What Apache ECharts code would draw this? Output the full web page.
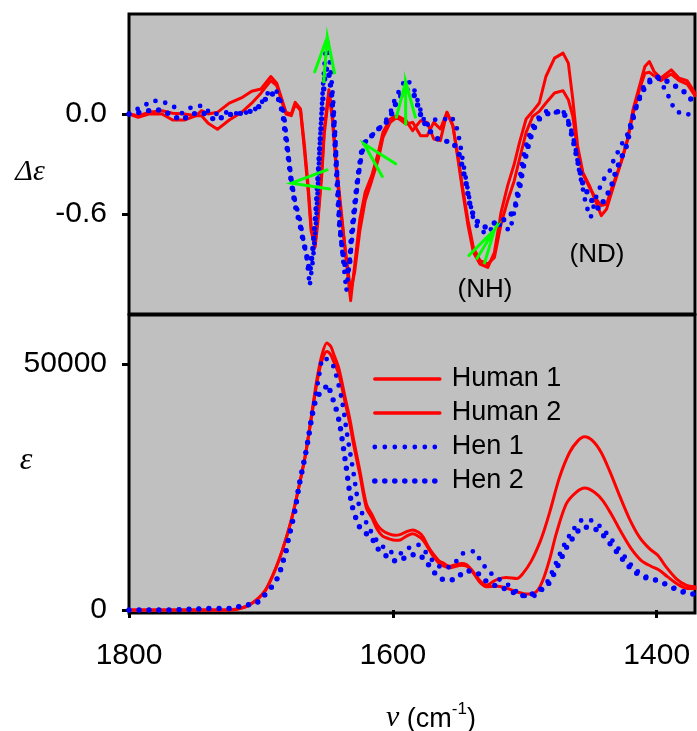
<!DOCTYPE html>
<html>
<head>
<meta charset="utf-8">
<script src="https://cdn.jsdelivr.net/npm/echarts@6/dist/echarts.min.js"></script>
<style>
html,body{margin:0;padding:0;background:#fff;}
#c{width:697px;height:731px;}
</style>
</head>
<body>
<div id="c"></div>
<script>
const xTicks = [1800, 1600, 1400];
const deltaTicks = [-0.6, 0.0];
const epsTicks = [0, 50000];
const seriesNames = ['Human 1', 'Human 2', 'Hen 1', 'Hen 2'];

const human1Delta = [
[1800,0.00],[1793,-0.01],[1785,0.01],[1775,0.02],[1767,0.005],[1758,0.00],[1749,-0.01],[1745,0.02],[1740,0.00],[1733,0.01],[1724,0.065],[1714,0.10],[1707,0.137],[1700,0.15],[1692.5,0.225],[1688,0.185],[1681,0.01],[1677,0.00],[1674,0.07],[1670,0.03],[1667,-0.19],[1664,-0.45],[1662,-0.67],[1659,-0.79],[1657,-0.63],[1654,-0.35],[1652,-0.09],[1648.5,0.145],[1646,0.01],[1643,-0.29],[1639,-0.59],[1635,-0.91],[1632,-1.12],[1629,-0.91],[1625,-0.63],[1621,-0.47],[1616,-0.37],[1611,-0.23],[1607.5,-0.11],[1602,-0.03],[1597,-0.01],[1590,-0.04],[1585,-0.10],[1579,-0.04],[1574,-0.05],[1569,-0.15],[1564,-0.16],[1559,0.01],[1554.5,-0.07],[1550.7,-0.27],[1547,-0.47],[1543,-0.67],[1539,-0.83],[1534,-0.90],[1528,-0.92],[1523,-0.83],[1518,-0.59],[1513,-0.43],[1508,-0.30],[1504,-0.17],[1499,-0.03],[1494,0.016],[1489,0.066],[1484,0.225],[1477.5,0.335],[1471,0.365],[1467,0.305],[1463.6,0.086],[1460,-0.19],[1456,-0.35],[1451,-0.43],[1446,-0.53],[1442,-0.61],[1438,-0.57],[1433,-0.44],[1427,-0.29],[1422,-0.15],[1418,0.026],[1413,0.17],[1409,0.285],[1405.6,0.315],[1402,0.255],[1397,0.215],[1389,0.265],[1383,0.215],[1377,0.20],[1371,0.126]
];
const human2Delta = [
[1800,0.00],[1793,-0.02],[1785,0.00],[1775,0.00],[1767,-0.036],[1758,-0.036],[1749,-0.01],[1745,-0.01],[1740,-0.056],[1733,-0.092],[1724,-0.036],[1714,0.014],[1707,0.065],[1700,0.125],[1692.5,0.20],[1688,0.17],[1681,0.00],[1677,-0.01],[1674,0.06],[1670,0.02],[1667,-0.22],[1664,-0.48],[1662,-0.70],[1659,-0.80],[1657,-0.66],[1654,-0.38],[1652,-0.12],[1648.5,0.12],[1646,-0.02],[1643,-0.33],[1639,-0.62],[1635,-0.88],[1632,-1.06],[1629,-0.95],[1625,-0.70],[1621,-0.52],[1616,-0.40],[1611,-0.27],[1607.5,-0.14],[1602,-0.05],[1597,-0.02],[1590,-0.06],[1585,-0.05],[1579,-0.13],[1574,-0.13],[1569,-0.05],[1564,-0.09],[1559,0.01],[1554.5,-0.07],[1550.7,-0.25],[1547,-0.45],[1543,-0.64],[1539,-0.80],[1534,-0.88],[1528,-0.90],[1523,-0.86],[1518,-0.66],[1513,-0.52],[1508,-0.40],[1504,-0.27],[1499,-0.11],[1494,-0.014],[1489,0.016],[1484,0.066],[1477.5,0.126],[1471,0.14],[1467,0.086],[1463.6,-0.014],[1460,-0.22],[1456,-0.36],[1451,-0.44],[1446,-0.51],[1442,-0.55],[1438,-0.54],[1433,-0.42],[1427,-0.29],[1422,-0.15],[1418,0.00],[1413,0.15],[1409,0.245],[1405.6,0.25],[1402,0.23],[1397,0.20],[1389,0.24],[1383,0.20],[1377,0.18],[1371,0.11]
];
const hen1Delta = [
[1800,0.00],[1797.5,0.014],[1790,0.044],[1782,0.08],[1775,0.075],[1767,0.05],[1760,0.005],[1752,0.044],[1744.5,0.05],[1737,-0.005],[1728,0.01],[1719,0.004],[1713,0.004],[1705,0.024],[1699,0.074],[1694,0.134],[1688,0.134],[1685,0.076],[1683,0.016],[1682,-0.04],[1679.4,-0.23],[1677,-0.39],[1674,-0.53],[1670.5,-0.63],[1668,-0.75],[1665.5,-0.85],[1663,-1.03],[1660.5,-0.87],[1658,-0.63],[1655.4,-0.19],[1653,0.165],[1651.6,0.325],[1650,0.455],[1648,0.325],[1646.5,0.205],[1645.3,0.086],[1644,-0.074],[1642.8,-0.27],[1641.5,-0.47],[1640.3,-0.67],[1637.8,-0.87],[1635.2,-1.06],[1631.4,-0.79],[1629,-0.59],[1626.4,-0.39],[1623.8,-0.25],[1621.3,-0.17],[1617.5,-0.144],[1613.8,-0.11],[1608.7,-0.074],[1605,-0.034],[1601,0.026],[1598.6,0.086],[1594.8,0.145],[1590.3,0.21],[1584.8,0.17],[1582.2,0.106],[1578.4,0.006],[1574.6,-0.074],[1571,-0.034],[1564.6,-0.034],[1560,-0.03],[1555.7,-0.014],[1552,-0.07],[1549.4,-0.16],[1547,-0.28],[1544.4,-0.40],[1542,-0.51],[1539.3,-0.62],[1536.8,-0.67],[1533,-0.68],[1530.5,-0.72],[1525.4,-0.69],[1517.8,-0.66],[1511.6,-0.70],[1509,-0.63],[1506.5,-0.51],[1504,-0.39],[1501.5,-0.27],[1497.7,-0.15],[1494,-0.074],[1489,-0.014],[1484,0.016],[1477.5,0.006],[1471.6,0.026],[1467.4,-0.034],[1463.6,-0.13],[1461,-0.23],[1458.6,-0.35],[1456,-0.45],[1453.5,-0.55],[1450,-0.62],[1446,-0.50],[1441,-0.40],[1436,-0.35],[1433.4,-0.29],[1429.6,-0.23],[1425.8,-0.17],[1422,-0.12],[1418.2,-0.014],[1414.4,0.066],[1410.6,0.155],[1404.3,0.215],[1398,0.21],[1390.4,0.096],[1386.6,0.026],[1380.3,-0.004],[1372.8,0.00]
];
const hen2Delta = [
[1800,0.00],[1797.5,0.00],[1790,0.014],[1782,0.024],[1775,0.024],[1767,-0.012],[1760,-0.036],[1752,0.00],[1744.5,0.01],[1737,-0.026],[1733,-0.04],[1728,-0.01],[1719,0.004],[1713,0.004],[1705,0.024],[1699,0.06],[1694,0.12],[1688,0.12],[1685,0.05],[1683,-0.02],[1681.9,-0.10],[1679.4,-0.25],[1677,-0.41],[1674,-0.55],[1670.5,-0.66],[1668,-0.76],[1665.5,-0.84],[1663,-0.95],[1660.5,-0.80],[1658,-0.55],[1655.4,-0.20],[1653,0.10],[1651.6,0.22],[1650,0.28],[1648,0.22],[1646.5,0.12],[1645.3,0.00],[1644,-0.15],[1642.8,-0.33],[1641.5,-0.52],[1640.3,-0.68],[1637.8,-0.84],[1635.2,-0.95],[1633,-0.93],[1631.4,-0.73],[1629,-0.55],[1626.4,-0.37],[1623.8,-0.23],[1621.3,-0.17],[1617.5,-0.144],[1613.8,-0.11],[1608.7,-0.074],[1605,-0.05],[1601,0.00],[1598.6,0.05],[1594.8,0.10],[1590.3,0.15],[1584.8,0.13],[1582.2,0.08],[1578.4,-0.02],[1574.6,-0.074],[1571,-0.11],[1564.6,-0.16],[1560,-0.164],[1555.7,-0.164],[1552,-0.20],[1549.4,-0.25],[1547,-0.33],[1544.4,-0.42],[1542,-0.53],[1539.3,-0.60],[1536.8,-0.64],[1533,-0.66],[1530.5,-0.68],[1525.4,-0.66],[1517.8,-0.64],[1511.6,-0.62],[1507,-0.55],[1504,-0.45],[1501.5,-0.33],[1497.7,-0.20],[1494,-0.10],[1489,-0.03],[1484,0.00],[1477.5,0.01],[1471.6,0.02],[1467.4,-0.04],[1463.6,-0.15],[1460,-0.28],[1456,-0.42],[1452,-0.48],[1447,-0.55],[1443.4,-0.57],[1439.6,-0.51],[1435,-0.45],[1432,-0.37],[1428.3,-0.29],[1423.3,-0.20],[1419.4,-0.074],[1415.6,0.046],[1411.9,0.116],[1408,0.175],[1400.5,0.225],[1392.9,0.20],[1385.4,0.165],[1377.8,0.126],[1372.8,0.076]
];

const human1Eps = [
[1800,0],[1780,0],[1760,0],[1740,0],[1724,0],[1716,300],[1709,1000],[1702,2360],[1696.5,4050],[1691.5,6750],[1686.4,10120],[1681.4,14170],[1676.4,18900],[1671.3,24960],[1666.2,31700],[1661.2,40500],[1657.4,47200],[1653.7,51960],[1650,54300],[1647,53600],[1644.8,52000],[1641,49200],[1636,43000],[1632.7,39000],[1630,35000],[1625,28300],[1620,21500],[1616,19500],[1612,17400],[1608,16200],[1603,15500],[1598,15200],[1594,15400],[1590,15900],[1585,16300],[1580,15700],[1577,14840],[1573,12800],[1569.6,11470],[1565,10000],[1562,9580],[1557,8900],[1554,9100],[1548,9450],[1544,9200],[1540,8100],[1534.3,6070],[1529,5060],[1524,5800],[1520.4,6300],[1514,6610],[1506,6400],[1501.5,7400],[1495,10000],[1489,13500],[1485,16500],[1481,20000],[1473.7,26980],[1466.1,32040],[1459.8,34400],[1454.8,35220],[1448.5,34400],[1442.1,32040],[1435.8,28340],[1428.2,23280],[1420.7,18560],[1413.1,14840],[1405.5,12480],[1399.2,11130],[1392.9,8770],[1385.3,6410],[1377.8,5060],[1371,4720]
];
const human2Eps = [
[1800,0],[1780,0],[1760,0],[1740,0],[1724,0],[1716,300],[1709,1000],[1702,2360],[1696.5,4050],[1691.5,6750],[1686.4,10120],[1681.4,14170],[1676.4,18900],[1671.3,24960],[1666.2,31700],[1661.2,40000],[1657.4,46500],[1653.7,50800],[1650,52600],[1647,51900],[1644.8,50500],[1641,48000],[1636,42000],[1632.7,38000],[1630,34000],[1625,27500],[1620,20700],[1616,18800],[1612,16500],[1608,15100],[1603,14500],[1598,14170],[1594,14300],[1590,15000],[1585,15520],[1580,14900],[1577,14170],[1573,12500],[1569.6,11000],[1565,9500],[1562,9000],[1557,8600],[1554,8770],[1548,9100],[1544,8900],[1540,7900],[1534.3,5730],[1529,4720],[1524,4800],[1520.4,4860],[1513,4390],[1506,3700],[1498,3240],[1491.4,3700],[1486.3,6070],[1481,10500],[1476.2,15500],[1468.6,21600],[1461.1,23950],[1454.5,24800],[1447.2,23950],[1440.9,22260],[1434.6,19570],[1427,15850],[1419.4,12480],[1411.9,10120],[1404.3,8900],[1398,8100],[1391.7,6740],[1384.1,5260],[1376.6,4390],[1371,4390]
];
const hen1Eps = [
[1800,0],[1790,0],[1780,0],[1770,0],[1760,100],[1750,200],[1740,300],[1730,300],[1722,340],[1713,1000],[1705,1200],[1698,2830],[1691.5,4860],[1686.4,7080],[1683.9,9450],[1681.4,11470],[1678.9,14840],[1676.4,17540],[1673.8,20900],[1671.3,24960],[1668.8,28340],[1666.2,31700],[1663.7,35760],[1661.2,40140],[1658.7,43200],[1656.2,47200],[1652.4,51300],[1646.5,50260],[1643.5,48230],[1638.5,42500],[1634.7,35760],[1629.7,27670],[1625.9,21600],[1620.3,17870],[1616.3,15850],[1611.3,13830],[1603.7,12140],[1596.1,11330],[1589,12480],[1581.4,13290],[1574.6,11600],[1568.3,9580],[1560.8,8440],[1553.2,9580],[1546.4,11600],[1538.8,11940],[1533.2,9860],[1527.4,7890],[1519.9,6340],[1512.6,5120],[1505,3500],[1497,2690],[1490.1,3240],[1483.8,5300],[1479.3,7760],[1475.8,9920],[1472.4,12000],[1468.6,14030],[1463.6,16190],[1457,18220],[1449.4,18220],[1441.9,16740],[1435.3,14710],[1429.6,12690],[1423.7,10660],[1417.4,8560],[1409.9,7020],[1401.8,6210],[1394.2,5400],[1385.9,4390],[1378.3,3700],[1372.8,3370]
];
const hen2Eps = [
[1800,0],[1790,0],[1780,0],[1770,0],[1760,100],[1750,200],[1740,300],[1730,300],[1722,340],[1713,1000],[1705,1200],[1698,2830],[1691.5,4860],[1686.4,7080],[1683.9,9450],[1681.4,11470],[1678.9,14840],[1676.4,17540],[1673.8,20900],[1671.3,24960],[1668.8,28340],[1666.2,31700],[1663.7,35500],[1661.2,39500],[1658.7,42500],[1656.2,43800],[1653.7,44200],[1649.1,45880],[1647,43860],[1644,41840],[1640.3,37800],[1635.7,29700],[1631.2,21600],[1625.2,16860],[1620,15500],[1616.3,14840],[1612.5,12820],[1604.9,10990],[1596.6,9920],[1589,10930],[1581.4,11330],[1574.1,9580],[1567.8,7420],[1560,6070],[1552.4,6340],[1544.4,7960],[1536.8,7690],[1529.2,5870],[1521.4,4860],[1513.6,4190],[1505.7,3240],[1498.2,2830],[1490.6,3910],[1483.3,4920],[1478.8,6880],[1475,8970],[1471.6,10930],[1467.9,12950],[1462.6,14980],[1456,16860],[1448.9,16740],[1441.3,15380],[1435,13360],[1428.9,11330],[1422.7,9310],[1415.6,7560],[1408,6540],[1400.5,6070],[1393.4,5260],[1385.3,4190],[1377.8,3500],[1372.3,3240]
];

// green arrows in the Δε panel: each path = arm, apex, arm, apex, (stem)
const arrowPaths = [
[[1659.2,0.253],[1649.7,0.462],[1644.1,0.239],[1649.7,0.462],[1652.4,0.193]],
[[1649.9,-0.335],[1676.8,-0.415],[1647.8,-0.45]],
[[1597.9,-0.299],[1621.9,-0.179],[1608.0,-0.375]],
[[1597.4,-0.02],[1590.3,0.193],[1582.7,-0.026],[1590.3,0.193],[1590.3,-0.06]],
[[1542.4,-0.849],[1522.9,-0.694],[1536.8,-0.873],[1522.9,-0.694],[1530.5,-0.893]]
];

const RED = '#ff0000', BLUE = '#0000ff', GREEN = '#00ff00';
const SANS = 'Liberation Sans, Arial, sans-serif';
const SERIF = 'Liberation Serif, Times New Roman, serif';

const redStyle = w => ({color: RED, width: w, type: 'solid', cap: 'round', join: 'round'});
const dotStyle = w => ({color: BLUE, width: w, type: [0, 10], cap: 'round', join: 'round'});
const legendStyles = [redStyle(3.5), redStyle(3.5), dotStyle(4.8), dotStyle(5.6)];

function lineSeries(name, data, axisIdx, style, smooth) {
  return {
    name: name, type: 'line', data: data,
    xAxisIndex: axisIdx, yAxisIndex: axisIdx,
    showSymbol: false, symbol: 'none', smooth: smooth ? 0.3 : false,
    lineStyle: style, itemStyle: {color: style.color}, silent: true, animation: false
  };
}

const series = [
  lineSeries('Human 1', human1Delta, 0, redStyle(3), false),
  lineSeries('Human 2', human2Delta, 0, redStyle(3), false),
  lineSeries('Hen 1', hen1Delta, 0, dotStyle(4.8), false),
  lineSeries('Hen 2', hen2Delta, 0, dotStyle(5.4), false),
  lineSeries('Human 1', human1Eps, 1, redStyle(3), true),
  lineSeries('Human 2', human2Eps, 1, redStyle(3), true),
  lineSeries('Hen 1', hen1Eps, 1, dotStyle(4.8), true),
  lineSeries('Hen 2', hen2Eps, 1, dotStyle(5.4), true)
];
arrowPaths.forEach(function (p, i) {
  series.push({
    name: 'arrow' + i, type: 'line', data: p, xAxisIndex: 0, yAxisIndex: 0,
    showSymbol: false, symbol: 'none', silent: true, animation: false, z: 5,
    lineStyle: {color: GREEN, width: 3, cap: 'round', join: 'miter'}
  });
});

const xBase = {
  type: 'value', min: 1371, max: 1800, inverse: true,
  splitLine: {show: false}, axisLine: {show: false}
};
const chart = echarts.init(document.getElementById('c'), null, {renderer: 'canvas'});
chart.setOption({
  animation: false,
  backgroundColor: '#ffffff',
  grid: [
    {left: 129, right: 2, top: 14, height: 300, show: true, backgroundColor: '#c0c0c0', borderColor: '#000', borderWidth: 3, containLabel: false},
    {left: 129, right: 2, top: 315, height: 298, show: true, backgroundColor: '#c0c0c0', borderColor: '#000', borderWidth: 3, containLabel: false}
  ],
  xAxis: [
    Object.assign({}, xBase, {gridIndex: 0, axisTick: {show: false}, axisLabel: {show: false}}),
    Object.assign({}, xBase, {gridIndex: 1,
      axisTick: {show: true, inside: false, length: 8, customValues: xTicks, lineStyle: {color: '#000', width: 3}},
      axisLabel: {show: true, customValues: xTicks, margin: 28, color: '#000', fontFamily: SANS, fontSize: 30,
        formatter: function (v) { return String(Math.round(v)); }}
    })
  ],
  yAxis: [
    {type: 'value', gridIndex: 0, min: -1.2, max: 0.6, splitLine: {show: false}, axisLine: {show: false},
      axisTick: {show: true, length: 7, customValues: deltaTicks, lineStyle: {color: '#000', width: 3}},
      axisLabel: {show: true, customValues: deltaTicks, margin: 22, color: '#000', fontFamily: SANS, fontSize: 30,
        formatter: function (v) { return Number(v).toFixed(1); }}},
    {type: 'value', gridIndex: 1, min: -600, max: 60000, splitLine: {show: false}, axisLine: {show: false},
      axisTick: {show: true, length: 7, customValues: epsTicks, lineStyle: {color: '#000', width: 3}},
      axisLabel: {show: true, customValues: epsTicks, margin: 22, color: '#000', fontFamily: SANS, fontSize: 30,
        formatter: function (v) { return String(Math.round(v)); }}}
  ],
  legend: {
    data: seriesNames.map(function (n, i) {
      return {name: n, itemStyle: {opacity: 0}, lineStyle: legendStyles[i]};
    }),
    orient: 'vertical', left: 372, top: 364, padding: 0, itemWidth: 65, itemHeight: 14, itemGap: 4,
    selectedMode: false,
    itemStyle: {opacity: 0},
    textStyle: {fontFamily: SANS, fontSize: 27, color: '#000', lineHeight: 30, padding: [0, 0, 0, 7]},
    backgroundColor: 'transparent'
  },
  series: series,
  graphic: [
    {type: 'text', style: {text: 'Δε', x: 30, y: 172, align: 'center', verticalAlign: 'middle', font: 'italic 30px ' + SERIF, fill: '#000'}},
    {type: 'text', style: {text: 'ε', x: 26, y: 461, align: 'center', verticalAlign: 'middle', font: 'italic 32px ' + SERIF, fill: '#000'}},
    {type: 'text', style: {text: '(NH)', x: 485, y: 290, align: 'center', verticalAlign: 'middle', font: '26px ' + SANS, fill: '#000'}},
    {type: 'text', style: {text: '(ND)', x: 597, y: 255, align: 'center', verticalAlign: 'middle', font: '26px ' + SANS, fill: '#000'}},
    {type: 'text', style: {
      text: '{nu|ν}{t| (cm}{sup|-1}{t|)}', x: 431, y: 717, align: 'center', verticalAlign: 'middle',
      rich: {
        nu: {fontFamily: SERIF, fontStyle: 'italic', fontSize: 30, lineHeight: 32, verticalAlign: 'bottom'},
        t: {fontFamily: SANS, fontSize: 27, lineHeight: 32, verticalAlign: 'bottom'},
        sup: {fontFamily: SANS, fontSize: 17, lineHeight: 32, verticalAlign: 'top'}
      }, fill: '#000'}}
  ]
});
</script>
</body>
</html>
